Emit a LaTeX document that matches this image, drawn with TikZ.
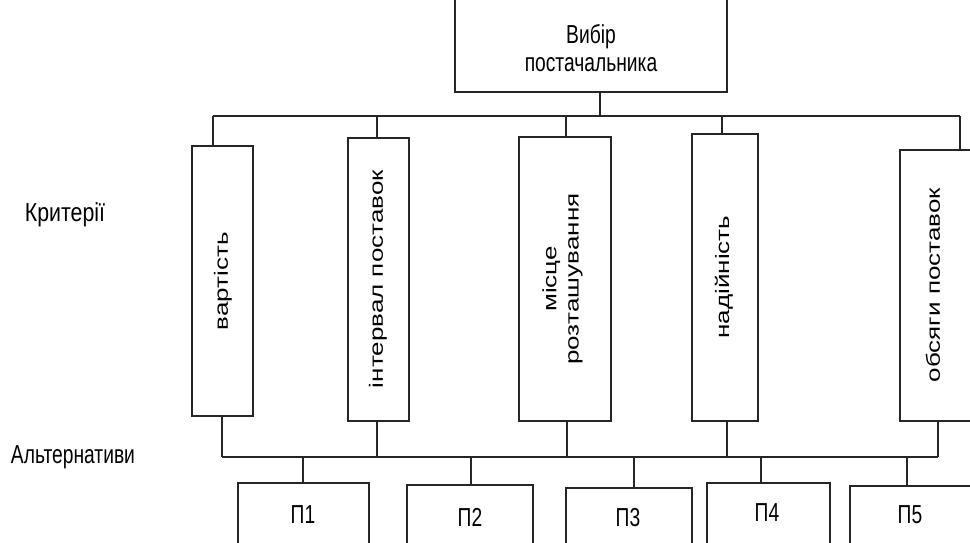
\documentclass[tikz,border=0pt]{standalone}
\usepackage{fontspec}
\setmainfont{Liberation Sans}
\usepackage{graphicx}
\newcommand\hsq[1]{\scalebox{0.74}[1]{#1}}
\newcommand\vsq[1]{\scalebox{1}[0.74]{#1}}
\begin{document}
\begin{tikzpicture}[x=1pt,y=-1pt,
  ln/.style={draw=black!85, line width=1.1pt},
  box/.style={ln, fill=white, inner sep=0pt, outer sep=0pt, anchor=north west},
  txt/.style={font=\fontsize{26}{30}\selectfont, inner sep=0pt, align=center},
  vtxt/.style={txt, rotate=90},
]
\useasboundingbox (0,0) rectangle (970,542);
\clip (0,0) rectangle (970,542);

% top box
\node[box, minimum width=272pt, minimum height=102pt] (tb) at (455,-10) {};
\node[txt, font=\fontsize{26}{28}\selectfont] (tbt) at (591,48) {\hsq{Вибір}\\\hsq{постачальника}};

% criteria boxes
\node[box, minimum width=61pt, minimum height=270pt] (c1) at (192,146) {};
\node[box, minimum width=61pt, minimum height=283pt] (c2) at (348,138) {};
\node[box, minimum width=92pt, minimum height=284pt] (c3) at (519,137) {};
\node[box, minimum width=66pt, minimum height=287pt] (c4) at (692,134) {};
\node[box, minimum width=90pt, minimum height=271pt] (c5) at (900,150) {};

\node[vtxt] (v1) at (223,281) {\vsq{вартість}};
\node[vtxt] (v2) at (378,279) {\vsq{інтервал поставок}};
\node[vtxt] (v3) at (563,279) {\vsq{\begin{tabular}{@{}c@{}}місце\\розташування\end{tabular}}};
\node[vtxt] (v4) at (724,277) {\vsq{надійність}};
\node[vtxt] (v5) at (933,285) {\vsq{обсяги поставок}};

% alternatives boxes
\node[box, minimum width=131pt, minimum height=80pt] (p1) at (238,483) {};
\node[box, minimum width=126pt, minimum height=80pt] (p2) at (407,485) {};
\node[box, minimum width=126pt, minimum height=80pt] (p3) at (566,488) {};
\node[box, minimum width=123pt, minimum height=80pt] (p4) at (707,483) {};
\node[box, minimum width=130pt, minimum height=80pt] (p5) at (850,486) {};

\node[txt] (q1) at (303,515) {\hsq{П1}};
\node[txt] (q2) at (470,517) {\hsq{П2}};
\node[txt] (q3) at (628,518) {\hsq{П3}};
\node[txt] (q4) at (767,513) {\hsq{П4}};
\node[txt] (q5) at (910,515) {\hsq{П5}};

% side labels
\node[txt] (lk) at (65,215) {\scalebox{0.82}[1]{Критерії}};
\node[txt] (la) at (73,457) {\hsq{Альтернативи}};

% top bus
\coordinate (s0) at (600,116);
\coordinate (k1) at (213,116);
\coordinate (k2) at (377,116);
\coordinate (k3) at (566,116);
\coordinate (k4) at (722,116);
\coordinate (k5) at (960,116);
\draw[ln] (s0 |- tb.south) -- (s0);
\draw[ln] (k1) -- (k5);
\foreach \i in {1,...,5} { \draw[ln] (k\i) -- (k\i |- c\i.north); }

% bottom bus
\coordinate (m1) at (222,457);
\coordinate (m2) at (377,457);
\coordinate (m3) at (567,457);
\coordinate (m4) at (727,457);
\coordinate (m5) at (938,457);
\draw[ln] (m1) -- (m5);
\foreach \i in {1,...,5} { \draw[ln] (m\i |- c\i.south) -- (m\i); }

\coordinate (a1) at (303,457);
\coordinate (a2) at (471,457);
\coordinate (a3) at (634,457);
\coordinate (a4) at (761,457);
\coordinate (a5) at (907,457);
\foreach \i in {1,...,5} { \draw[ln] (a\i) -- (a\i |- p\i.north); }
\end{tikzpicture}
\end{document}
